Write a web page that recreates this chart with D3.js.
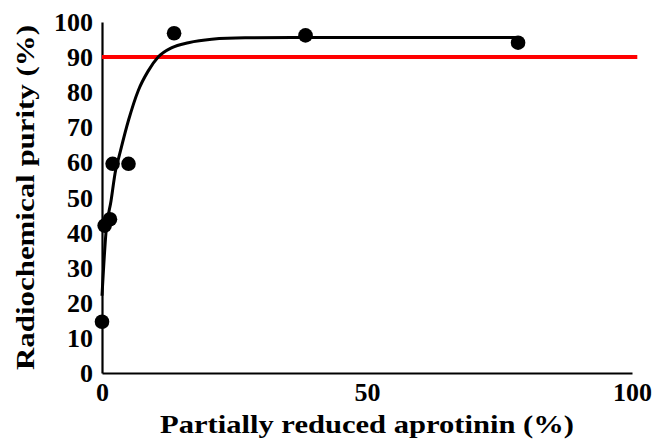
<!DOCTYPE html>
<html>
<head>
<meta charset="utf-8">
<script src="https://cdn.jsdelivr.net/npm/d3@7"></script>
<style>
  body { margin: 0; background: #fff; }
</style>
</head>
<body>
<div id="chart"></div>
<script>
// measured points
const reducedPct = [0, 0.5, 1.5, 2, 5, 13.6, 38.4, 78.5]
const purityPct = [14.6, 42, 43.8, 59.6, 59.6, 96.8, 96.2, 94.1]

// fitted curve
const fitX = [0, 0.75, 1.7, 2.6, 3.1, 5, 6.85, 8.7, 10.6, 13.2, 16.3, 20.7, 27, 40, 78.5]
const fitY = [22, 40, 49, 58, 61, 72, 80.5, 86, 90, 92.7, 94.1, 95.1, 95.5, 95.6, 95.6]

// 90% threshold line
const threshold = 90
const thresholdX = [0, 101]

const xTicks = [0, 50, 100]
const yTicks = [0, 10, 20, 30, 40, 50, 60, 70, 80, 90, 100]

const FONT = "Liberation Serif"

const width = 654
const height = 439
const margin = { top: 22, left: 102, bottom: 66, right: 22 }
const iwidth = width - margin.left - margin.right
const iheight = height - margin.top - margin.bottom

const svg = d3.select("#chart").append("svg")
    .attr("width", width)
    .attr("height", height)

const g = svg.append("g").attr("transform", `translate(${margin.left},${margin.top})`)

const x = d3.scaleLinear().domain([0, 100]).range([0, iwidth])
const y = d3.scaleLinear().domain([0, 100]).range([iheight, 0])

// axes
const xAxis = g.append("g")
    .attr("transform", `translate(0,${iheight})`)
    .call(d3.axisBottom(x).tickValues(xTicks).tickSize(0).tickPadding(11))
const yAxis = g.append("g")
    .call(d3.axisLeft(y).tickValues(yTicks).tickSize(0).tickPadding(9))

;[xAxis, yAxis].forEach(a => {
    a.attr("font-family", FONT).attr("font-size", 26).attr("font-weight", "bold")
    a.select(".domain").attr("stroke", "#000").attr("stroke-width", 2.2)
    a.selectAll("text").attr("fill", "#000")
})
xAxis.selectAll("text").attr("dy", "0.66em")
yAxis.selectAll("text").attr("dy", "0.33em")

// threshold line
g.append("line")
    .attr("x1", x(thresholdX[0]))
    .attr("x2", x(thresholdX[1]))
    .attr("y1", y(threshold))
    .attr("y2", y(threshold))
    .attr("stroke", "#ff0000")
    .attr("stroke-width", 4)

// fitted curve
const fit = fitX.map((v, i) => [v, fitY[i]])
g.append("path")
    .datum(fit)
    .attr("fill", "none")
    .attr("stroke", "#000")
    .attr("stroke-width", 3)
    .attr("d", d3.line().x(d => x(d[0])).y(d => y(d[1])).curve(d3.curveMonotoneX))

// points
const pts = reducedPct.map((v, i) => [v, purityPct[i]])
g.selectAll("circle.pt").data(pts).enter().append("circle")
    .attr("class", "pt")
    .attr("cx", d => x(d[0]))
    .attr("cy", d => y(d[1]))
    .attr("r", 7.3)
    .attr("fill", "#000")

// axis titles
svg.append("text")
    .attr("x", margin.left + iwidth / 2)
    .attr("y", 433)
    .attr("text-anchor", "middle")
    .attr("font-family", FONT)
    .attr("font-weight", "bold")
    .attr("font-size", 26)
    .attr("textLength", 414)
    .attr("lengthAdjust", "spacingAndGlyphs")
    .text("Partially reduced aprotinin (%)")

svg.append("text")
    .attr("transform", `translate(34,${margin.top + iheight / 2}) rotate(-90)`)
    .attr("text-anchor", "middle")
    .attr("font-family", FONT)
    .attr("font-weight", "bold")
    .attr("font-size", 26)
    .attr("textLength", 345)
    .attr("lengthAdjust", "spacingAndGlyphs")
    .text("Radiochemical purity (%)")
</script>
</body>
</html>
